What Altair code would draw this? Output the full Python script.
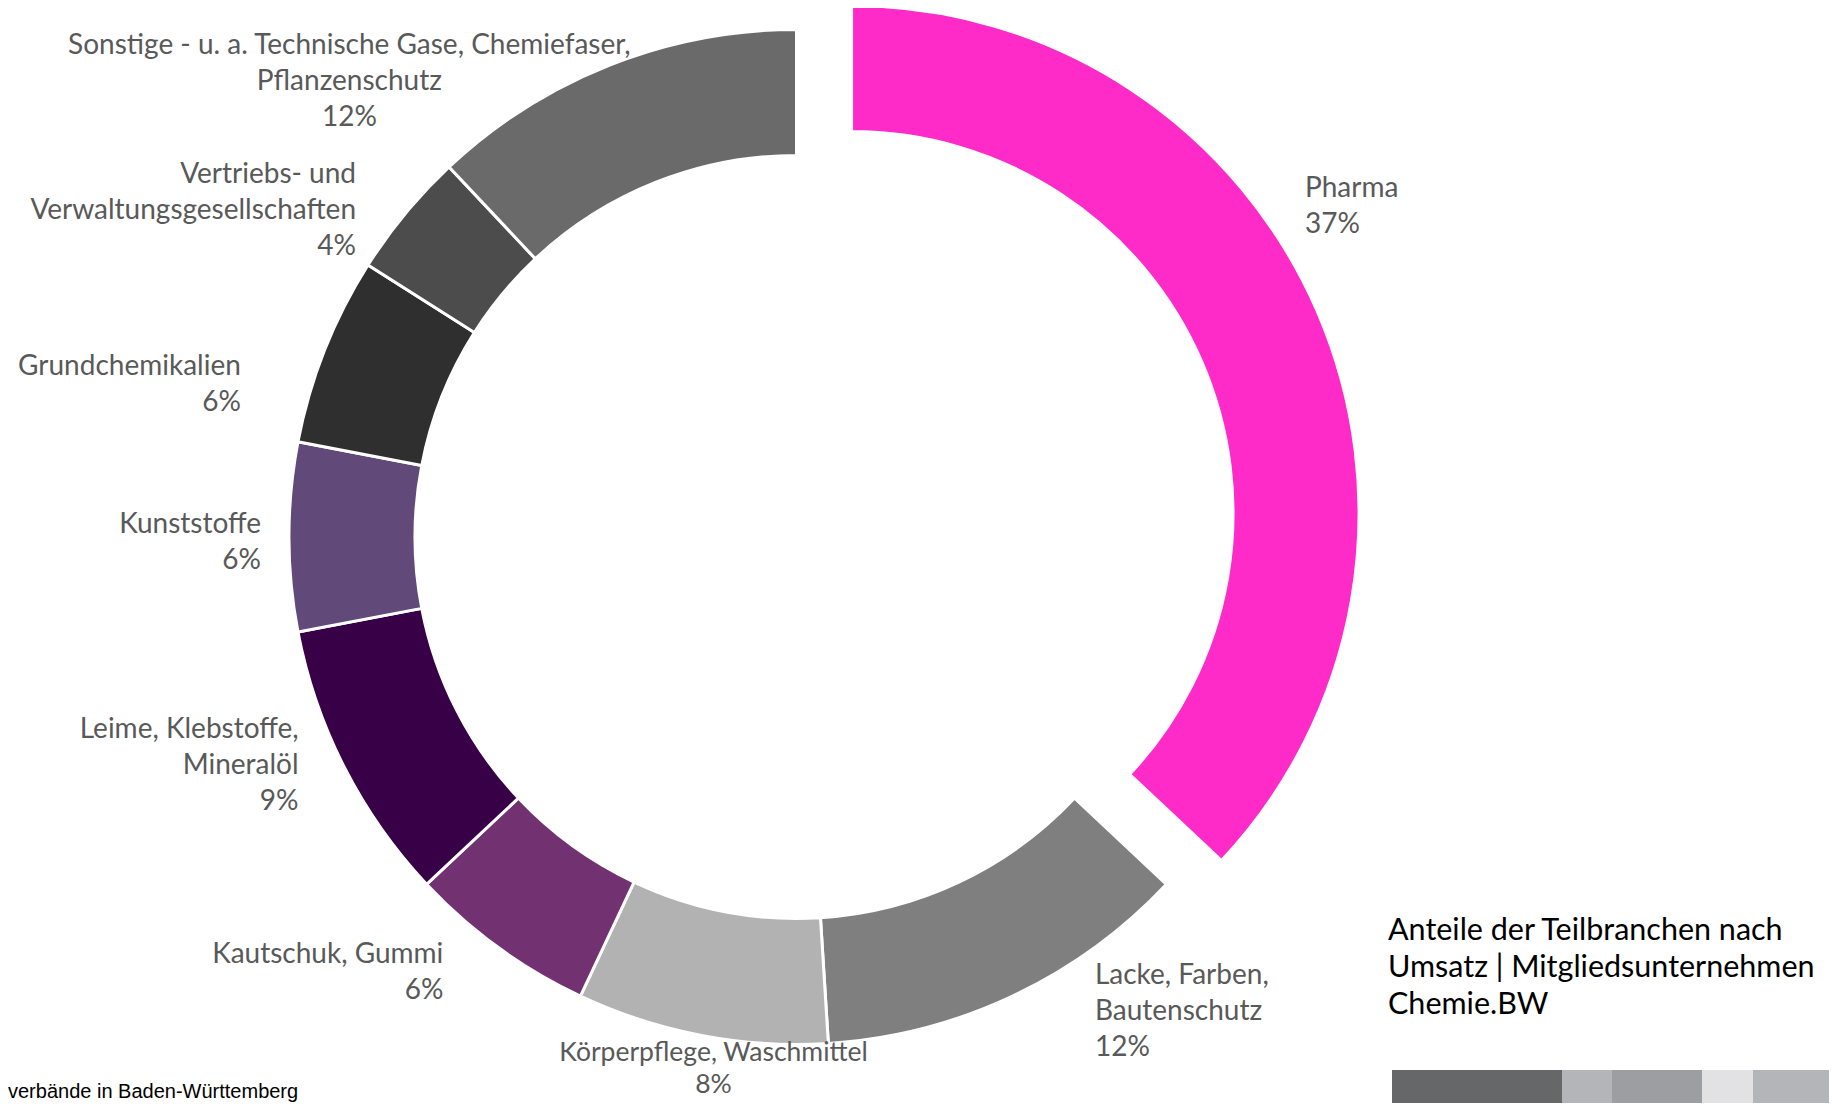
import math
import altair as alt
import pandas as pd

# ---- data ----
categories = ["Pharma", "Lacke", "Koerperpflege", "Kautschuk", "Leime",
              "Kunststoffe", "Grundchemikalien", "Vertrieb", "Sonstige"]
labels = ["Pharma",
          "Lacke, Farben,\nBautenschutz",
          "Körperpflege, Waschmittel",
          "Kautschuk, Gummi",
          "Leime, Klebstoffe,\nMineralöl",
          "Kunststoffe",
          "Grundchemikalien",
          "Vertriebs- und\nVerwaltungsgesellschaften",
          "Sonstige - u. a. Technische Gase, Chemiefaser,\nPflanzenschutz"]
values = [37, 12, 8, 6, 9, 6, 6, 4, 12]
title_lines = ["Anteile der Teilbranchen nach", "Umsatz | Mitgliedsunternehmen", "Chemie.BW"]
footer_text = "verbände in Baden-Württemberg"

# ---- styles ----
colors = ["#ff2bc8", "#7f7f7f", "#b2b2b2", "#723170", "#370047",
          "#61497a", "#2f2f2f", "#4c4c4c", "#6a6a6a"]
strip_widths = [170, 50, 90, 51, 84]
strip_colors = ["#666769", "#b4b5b8", "#9d9ea2", "#e2e2e4", "#b4b5b8"]

W, H = 1821, 1095
CX, CY = 788.5, 528.9
R_OUT, R_IN = 507.5, 381.5
EXPLODE = 60
LABEL_FONT = "Lato"
LABEL_SIZE = 28
LABEL_LH = 36
# per label: align, dx, dy (dy of the block centre), font size, line height
label_style = {
    "Pharma": ("left", -5.5, -107.5, LABEL_SIZE, LABEL_LH),
    "Lacke": ("left", 60, -31.6, LABEL_SIZE, LABEL_LH),
    "Koerperpflege": ("center", 22, -18, 26.5, 32),
    "Kautschuk": ("right", -24, -17, LABEL_SIZE, LABEL_LH),
    "Leime": ("right", 1, -25, LABEL_SIZE, LABEL_LH),
    "Kunststoffe": ("right", 24.5, 6, LABEL_SIZE, LABEL_LH),
    "Grundchemikalien": ("right", -35, 54, LABEL_SIZE, LABEL_LH),
    "Vertrieb": ("right", -9, 31, LABEL_SIZE, LABEL_LH),
    "Sonstige": ("center", -241, 66, LABEL_SIZE, LABEL_LH),
}

df = pd.DataFrame({"category": categories, "label": labels, "value": values})
df["end"] = df["value"].cumsum()
df["start"] = df["end"] - df["value"]
df["mid"] = (df["start"] + df["end"]) / 2
df["text"] = df["label"] + "\n" + df["value"].astype(str) + "%"

total = df["value"].sum()
theta_scale = alt.Scale(domain=[0, total], range=[0, 2 * math.pi])
color_scale = alt.Scale(domain=categories, range=colors)

pharma_mid = float(df.loc[df["category"] == "Pharma", "mid"].iloc[0]) / total * 2 * math.pi
ex = EXPLODE * math.sin(pharma_mid)
ey = -EXPLODE * math.cos(pharma_mid)

base = alt.Chart(df)

ring = base.transform_filter(alt.datum.category != "Pharma").mark_arc(
    outerRadius=R_OUT, innerRadius=R_IN, stroke="white", strokeWidth=3
).encode(
    theta=alt.Theta("start:Q", scale=theta_scale, stack=None),
    theta2="end:Q",
    color=alt.Color("category:N", scale=color_scale, legend=None),
    x=alt.value(CX), y=alt.value(CY),
)

pharma = base.transform_filter(alt.datum.category == "Pharma").mark_arc(
    outerRadius=R_OUT, innerRadius=R_IN, stroke="white", strokeWidth=3
).encode(
    theta=alt.Theta("start:Q", scale=theta_scale, stack=None),
    theta2="end:Q",
    color=alt.Color("category:N", scale=color_scale, legend=None),
    x=alt.value(CX + ex), y=alt.value(CY + ey),
)

text_layers = []
for cat, txt in zip(categories, df["text"]):
    al, dx, dy, fs, lh = label_style[cat]
    n_lines = txt.count("\n") + 1
    dy_first = dy - (n_lines - 1) * lh / 2
    text_layers.append(
        base.transform_filter(alt.datum.category == cat).mark_text(
            align=al, baseline="middle", dx=dx, dy=dy_first, lineBreak="\n",
            font=LABEL_FONT, fontSize=fs, lineHeight=lh, color="#595959"
        ).encode(
            text="text:N",
            theta=alt.Theta("mid:Q", scale=theta_scale, stack=None),
            radius=alt.value(560),
            x=alt.value(CX), y=alt.value(CY),
        )
    )

TITLE_LH = 37
title = alt.Chart(pd.DataFrame({"t": ["\n".join(title_lines)]})).mark_text(
    align="left", baseline="middle", lineBreak="\n", font=LABEL_FONT,
    fontSize=30.5, lineHeight=TITLE_LH, color="#000000"
).encode(text="t:N", x=alt.value(1380), y=alt.value(960 - (len(title_lines) - 1) * TITLE_LH / 2))

footer = alt.Chart(pd.DataFrame({"t": [footer_text]})).mark_text(
    align="left", baseline="alphabetic", font="Liberation Sans",
    fontSize=20, color="#000000"
).encode(text="t:N", x=alt.value(0), y=alt.value(1090))

sdf = pd.DataFrame({"w": strip_widths, "c": strip_colors})
sdf["e"] = sdf["w"].cumsum()
sdf["s"] = sdf["e"] - sdf["w"]
strip = alt.Chart(sdf).mark_rect().encode(
    x=alt.X("s:Q", scale=alt.Scale(domain=[0, int(sdf["e"].iloc[-1])], range=[1384, 1829]), axis=None),
    x2="e:Q",
    y=alt.value(1062), y2=alt.value(H),
    color=alt.Color("c:N", scale=None),
)

chart = alt.layer(ring, pharma, *text_layers, title, footer, strip).resolve_scale(
    color="independent", x="independent"
).properties(
    width=W, height=H, autosize=alt.AutoSizeParams(type="none"), padding=0
).configure_view(stroke=None)

chart.save("out.html", embed_options={"renderer": "svg", "actions": False})
